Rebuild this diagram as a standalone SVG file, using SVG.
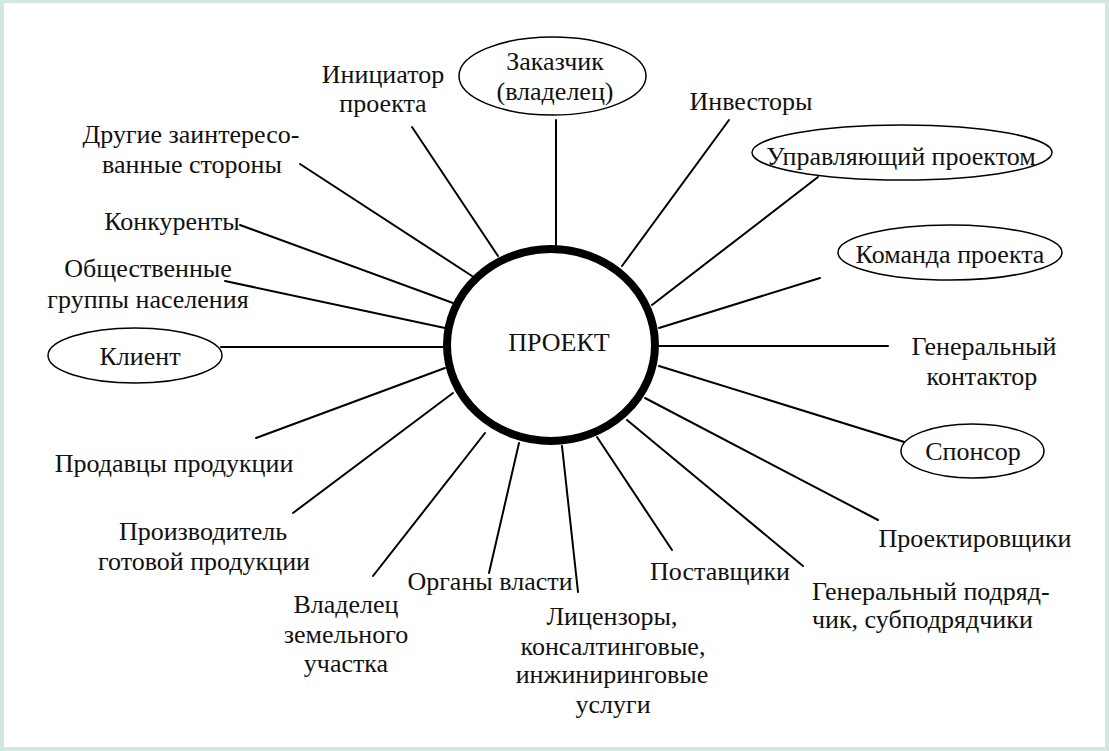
<svg xmlns="http://www.w3.org/2000/svg" width="1109" height="751" viewBox="0 0 1109 751" font-family="'Liberation Serif', 'Times New Roman', serif">
<style>
text{font-family:'Liberation Serif','Times New Roman',serif;font-size:26px;fill:#111;text-anchor:middle}
.l{text-anchor:start}
.c line{stroke:#000;stroke-width:2;stroke-linecap:round}
.e{fill:#fff;stroke:#000;stroke-width:1.5}
</style>
<rect x="0" y="0" width="1109" height="751" fill="#d3e6e1"/>
<rect x="4" y="3" width="1101" height="744" fill="#fff"/>
<g id="connectors" class="c">
<line x1="556" y1="120" x2="556" y2="246"/>
<line x1="412" y1="127" x2="498" y2="256"/>
<line x1="729" y1="120" x2="622" y2="266"/>
<line x1="818" y1="177" x2="652" y2="305"/>
<line x1="820" y1="278" x2="659" y2="328"/>
<line x1="659" y1="346" x2="888" y2="346"/>
<line x1="659" y1="366" x2="914" y2="445"/>
<line x1="645" y1="398" x2="878" y2="520"/>
<line x1="627" y1="420" x2="803" y2="566"/>
<line x1="597" y1="437" x2="672" y2="550"/>
<line x1="562" y1="446" x2="578" y2="592"/>
<line x1="519" y1="443" x2="489" y2="573"/>
<line x1="485" y1="433" x2="373" y2="576"/>
<line x1="453" y1="393" x2="293" y2="513"/>
<line x1="445" y1="368" x2="256" y2="438"/>
<line x1="221" y1="347" x2="443" y2="347"/>
<line x1="225" y1="281" x2="445" y2="328"/>
<line x1="240" y1="225" x2="453" y2="303"/>
<line x1="300" y1="164" x2="472" y2="276"/>
</g>
<g id="project">
<ellipse cx="551" cy="345" rx="104" ry="96" fill="#fff" stroke="#000" stroke-width="8"/>
<text x="559" y="351">ПРОЕКТ</text>
</g>
<g id="zakazchik">
<ellipse class="e" cx="552.5" cy="76" rx="93.5" ry="39"/>
<text x="555" y="70">Заказчик</text>
<text x="555" y="100">(владелец)</text>
</g>
<g id="initiator">
<text x="383" y="83">Инициатор</text>
<text x="383" y="112">проекта</text>
</g>
<g id="investors"><text x="751" y="110">Инвесторы</text></g>
<g id="manager">
<ellipse class="e" cx="902" cy="152.5" rx="150" ry="27.5"/>
<text x="901" y="165">Управляющий проектом</text>
</g>
<g id="team">
<ellipse class="e" cx="950" cy="252.5" rx="112" ry="27.5"/>
<text x="950" y="263">Команда проекта</text>
</g>
<g id="gencontractor">
<text x="984" y="355">Генеральный</text>
<text x="982" y="385">контактор</text>
</g>
<g id="sponsor">
<ellipse class="e" cx="972.5" cy="451" rx="71.5" ry="27"/>
<text x="973" y="460">Спонсор</text>
</g>
<g id="designers"><text x="975" y="547">Проектировщики</text></g>
<g id="genpodryad">
<text class="l" x="812" y="600">Генеральный подряд-</text>
<text class="l" x="812" y="628">чик, субподрядчики</text>
</g>
<g id="suppliers"><text x="720" y="580">Поставщики</text></g>
<g id="licensors">
<text x="612" y="625">Лицензоры,</text>
<text x="613" y="655">консалтинговые,</text>
<text x="612" y="683">инжиниринговые</text>
<text x="613" y="713">услуги</text>
</g>
<g id="authorities"><text x="490" y="590">Органы власти</text></g>
<g id="landowner">
<text x="346" y="613">Владелец</text>
<text x="346" y="643">земельного</text>
<text x="346" y="672">участка</text>
</g>
<g id="producer">
<text x="203" y="540">Производитель</text>
<text x="204" y="570">готовой продукции</text>
</g>
<g id="sellers"><text x="174" y="472">Продавцы продукции</text></g>
<g id="client">
<ellipse class="e" cx="135" cy="355.5" rx="87" ry="27.5"/>
<text x="140" y="365">Клиент</text>
</g>
<g id="public">
<text x="148" y="277">Общественные</text>
<text x="148" y="308">группы населения</text>
</g>
<g id="competitors"><text x="172" y="230">Конкуренты</text></g>
<g id="others">
<text x="191" y="143">Другие заинтересо-</text>
<text x="192" y="173">ванные стороны</text>
</g>
</svg>
